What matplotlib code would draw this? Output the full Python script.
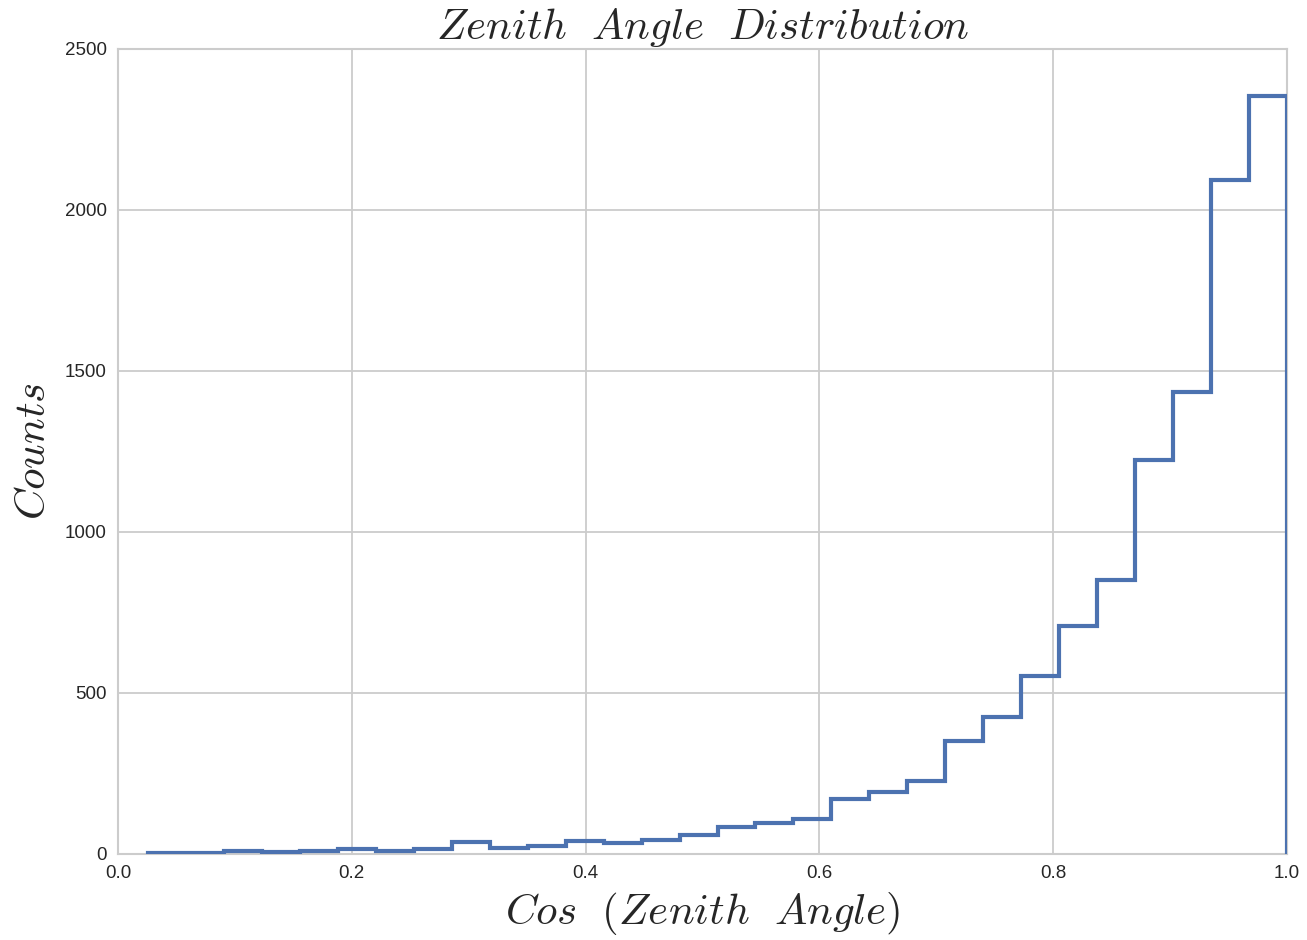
import numpy as np
import matplotlib
matplotlib.use("Agg")
from matplotlib import pyplot as plt
import seaborn as sns

# histogram of cos(zenith angle), 30 bins
bin_lo = 0.0257
bin_hi = 1.0
n_bins = 30
counts = [4, 3, 8, 5, 10, 15, 9, 17, 37, 19,
          26, 41, 33, 43, 60, 84, 95, 109, 172, 193,
          228, 351, 425, 553, 708, 851, 1224, 1435, 2093, 2354]

sns.set_style("whitegrid")
plt.rcParams['font.family'] = ['Liberation Sans', 'DejaVu Sans']
plt.rcParams['mathtext.fontset'] = 'cm'

edges = np.linspace(bin_lo, bin_hi, n_bins + 1)

fig = plt.figure(figsize=(13.07, 9.40), dpi=100)
ax = fig.add_axes([0.0903, 0.0915, 0.8944, 0.8564])

ax.hist(edges[:-1], bins=edges, weights=counts, histtype='step',
        color='#4C72B0', linewidth=3.0, zorder=3)

ax.set_xlim(0, 1.0)
ax.set_ylim(0, 2500)
ax.set_xticks([0.0, 0.2, 0.4, 0.6, 0.8, 1.0])
ax.set_yticks([0, 500, 1000, 1500, 2000, 2500])
ax.tick_params(labelsize=13.5, length=0, pad=8, colors='#262626')
for s in ax.spines.values():
    s.set_color('#cccccc')
    s.set_linewidth(1.5)
ax.grid(color='#cccccc', linewidth=1.3)

ax.set_title(r'$Zenith\ \ Angle\ \ Distribution$', fontsize=31, color='#262626', pad=7)
ax.set_xlabel(r'$Cos\ \ (Zenith\ \ Angle)$', fontsize=31, color='#262626', labelpad=6)
ax.set_ylabel(r'$Counts$', fontsize=31, color='#262626', labelpad=8)

fig.savefig("out.png", dpi=100)
